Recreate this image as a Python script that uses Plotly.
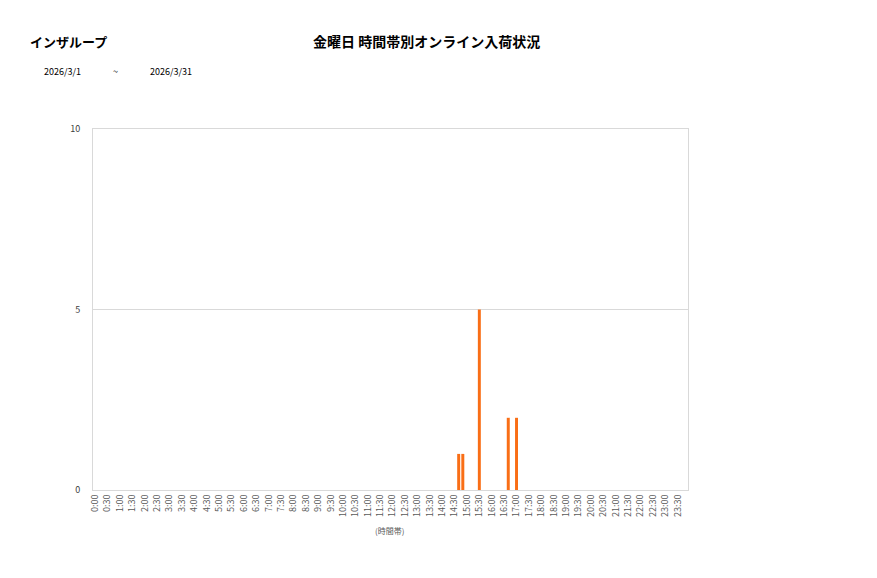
import plotly.graph_objects as go

# 10-minute slots for one day (labels shown every 30 minutes)
slots = [f"{h}:{m:02d}" for h in range(24) for m in range(0, 60, 10)]

# arrivals per 10-minute slot, one row per 4 hours
counts = [
    0, 0, 0, 0, 0, 0, 0, 0, 0, 0, 0, 0, 0, 0, 0, 0, 0, 0, 0, 0, 0, 0, 0, 0,  # 0:00-3:50
    0, 0, 0, 0, 0, 0, 0, 0, 0, 0, 0, 0, 0, 0, 0, 0, 0, 0, 0, 0, 0, 0, 0, 0,  # 4:00-7:50
    0, 0, 0, 0, 0, 0, 0, 0, 0, 0, 0, 0, 0, 0, 0, 0, 0, 0, 0, 0, 0, 0, 0, 0,  # 8:00-11:50
    0, 0, 0, 0, 0, 0, 0, 0, 0, 0, 0, 0, 0, 0, 0, 0, 1, 1, 0, 0, 0, 5, 0, 0,  # 12:00-15:50
    0, 0, 0, 0, 2, 0, 2, 0, 0, 0, 0, 0, 0, 0, 0, 0, 0, 0, 0, 0, 0, 0, 0, 0,  # 16:00-19:50
    0, 0, 0, 0, 0, 0, 0, 0, 0, 0, 0, 0, 0, 0, 0, 0, 0, 0, 0, 0, 0, 0, 0, 0,  # 20:00-23:50
]

tick_labels = [
    "0:00", "0:30", "1:00", "1:30", "2:00", "2:30", "3:00", "3:30",
    "4:00", "4:30", "5:00", "5:30", "6:00", "6:30", "7:00", "7:30",
    "8:00", "8:30", "9:00", "9:30", "10:00", "10:30", "11:00", "11:30",
    "12:00", "12:30", "13:00", "13:30", "14:00", "14:30", "15:00", "15:30",
    "16:00", "16:30", "17:00", "17:30", "18:00", "18:30", "19:00", "19:30",
    "20:00", "20:30", "21:00", "21:30", "22:00", "22:30", "23:00", "23:30",
]

company = "インザループ"
title = "金曜日 時間帯別オンライン入荷状況"
date_from = "2026/3/1"
date_to = "2026/3/31"

FONT = "Noto Sans CJK JP"
GRID = "#d9d9d9"
TXT = "#595959"

fig = go.Figure(go.Bar(
    x=slots,
    y=counts,
    marker_color="#F96E16",
    marker_line_width=0,
    width=0.72,
))

fig.update_layout(
    width=877,
    height=578,
    margin=dict(l=85, r=197, t=121, b=96),
    paper_bgcolor="white",
    plot_bgcolor="white",
    showlegend=False,
    font=dict(family=FONT, color=TXT),
)

fig.update_xaxes(
    type="category",
    categoryorder="array",
    categoryarray=slots,
    tickmode="array",
    tickvals=tick_labels,
    ticktext=tick_labels,
    tickangle=-90,
    tickfont=dict(size=9, color=TXT),
    showgrid=False,
    showline=True,
    linecolor=GRID,
    mirror=True,
    ticks="",
)

fig.update_yaxes(
    range=[0, 10],
    tickvals=[0, 5, 10],
    tickfont=dict(size=9, color="#404040"),
    showgrid=True,
    gridcolor=GRID,
    showline=True,
    linecolor=GRID,
    mirror=True,
    zeroline=False,
    ticks="",
    ticklabelstandoff=10,
)

texts = [
    dict(text=f"<b>{company}</b>", x=-0.109, y=1.243, size=13, color="black", xanchor="left"),
    dict(text=f"<b>{title}</b>", x=0.560, y=1.243, size=14, color="black", xanchor="center"),
    dict(text=date_from, x=-0.0857, y=1.158, size=9, color="black", xanchor="left"),
    dict(text="~", x=0.037, y=1.158, size=9, color="black", xanchor="center"),
    dict(text=date_to, x=0.0924, y=1.158, size=9, color="black", xanchor="left"),
    dict(text="(時間帯)", x=0.499, y=-0.111, size=8, color=TXT, xanchor="center"),
]
for t in texts:
    fig.add_annotation(
        text=t["text"], x=t["x"], y=t["y"], xref="paper", yref="paper",
        xanchor=t["xanchor"], yanchor="middle", showarrow=False,
        font=dict(family=FONT, size=t["size"], color=t["color"]),
    )

fig.write_html("out.html")
